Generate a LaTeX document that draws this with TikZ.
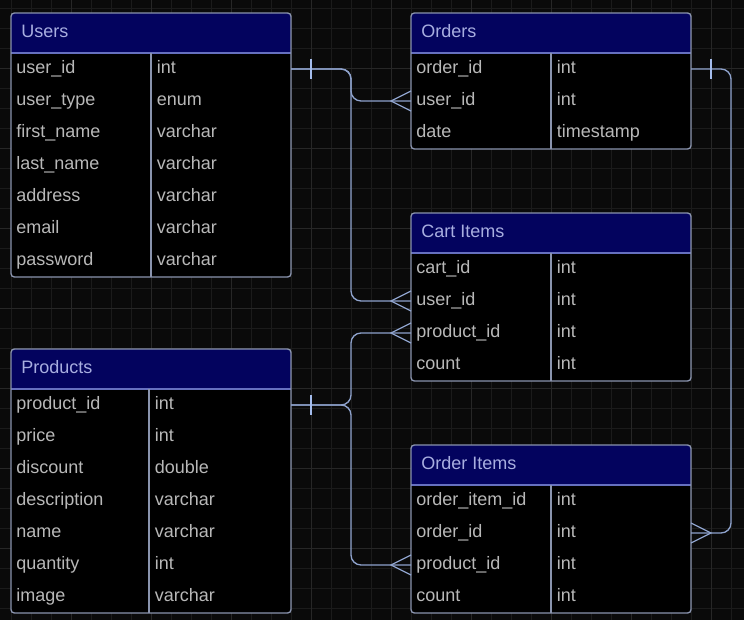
\documentclass[tikz,border=0pt]{standalone}
\usepackage{fontspec}
\setmainfont{Liberation Sans}
\usetikzlibrary{calc}
\definecolor{bg}{HTML}{0A0A0A}
\definecolor{gridminor}{HTML}{1B1B1B}
\definecolor{gridmajor}{HTML}{272727}
\definecolor{hdrfill}{HTML}{03035E}
\definecolor{hdrtext}{HTML}{A8AEE0}
\definecolor{celltext}{HTML}{B8B8B8}
\definecolor{bordercol}{HTML}{8A94AE}
\definecolor{hdrline}{HTML}{6670C0}
\definecolor{conncol}{HTML}{8EA2CC}
\definecolor{markcol}{HTML}{A4BCEC}
\tikzset{
  hdrtxt/.style={inner sep=0pt, anchor=base west, text=hdrtext, font=\fontsize{13.5}{16}\selectfont},
  celltxt/.style={inner sep=0pt, anchor=base west, text=celltext, font=\fontsize{13.5}{16}\selectfont},
  tblborder/.style={draw=bordercol, line width=1pt},
  connline/.style={draw=conncol, line width=1pt, rounded corners=7.5pt},
  markline/.style={draw=markcol, line width=1pt},
  crowline/.style={draw=conncol, line width=1pt},
}
% #1 name, #2 x, #3 y, #4 divider offset, #5 rows, #6 title, #7 rows list
\newcommand\ertable[7]{%
  \begin{scope}[shift={(#2,#3)}]
    \pgfmathsetmacro\tblH{40+32*#5}
    \begin{scope}
      \clip[rounded corners=2.5pt] (0,0) rectangle (280,\tblH);
      \fill[black] (0,0) rectangle (280,\tblH);
      \fill[hdrfill] (0,0) rectangle (280,40);
    \end{scope}
    \draw[hdrline, line width=1pt] (0,40) -- (280,40);
    \draw[tblborder] (#4,40) -- (#4,\tblH);
    \draw[tblborder, rounded corners=2.5pt] (0,0) rectangle (280,\tblH);
    \node[hdrtxt] (#1-title) at (10,24.5) {#6};
    \foreach \a/\b [count=\i] in {#7} {
      \node[celltxt] (#1-\i-n) at (5,{40+32*\i-16+4.5}) {\a};
      \node[celltxt] (#1-\i-t) at ({#4+5.5},{40+32*\i-16+4.5}) {\b};
      \coordinate (#1-\i-l) at (0,{40+32*\i-16});
      \coordinate (#1-\i-r) at (280,{40+32*\i-16});
    }
  \end{scope}
}
\begin{document}
\begin{tikzpicture}[x=0.75pt, y=-0.75pt]
  \useasboundingbox (0,0) rectangle (744,620);
  \fill[bg] (0,0) rectangle (744,620);
  % grid
  \foreach \k in {0,...,36} {
    \draw[gridminor, line width=0.75pt] ({11.7+20*\k},0) -- ({11.7+20*\k},620);
  }
  \foreach \k in {0,...,30} {
    \draw[gridminor, line width=0.75pt] (0,{8.3+20*\k}) -- (744,{8.3+20*\k});
  }
  \foreach \k in {0,...,8} {
    \draw[gridmajor, line width=0.75pt] ({71.7+80*\k},0) -- ({71.7+80*\k},620);
  }
  \foreach \k in {0,...,7} {
    \draw[gridmajor, line width=0.75pt] (0,{68.3+80*\k}) -- (744,{68.3+80*\k});
  }
  % tables
  \ertable{U}{11}{13}{140}{7}{Users}{user\_id/int, user\_type/enum, first\_name/varchar, last\_name/varchar, address/varchar, email/varchar, password/varchar}
  \ertable{O}{411}{13}{140}{3}{Orders}{order\_id/int, user\_id/int, date/timestamp}
  \ertable{C}{411}{213}{140}{4}{Cart Items}{cart\_id/int, user\_id/int, product\_id/int, count/int}
  \ertable{P}{11}{349}{138}{7}{Products}{product\_id/int, price/int, discount/double, description/varchar, name/varchar, quantity/int, image/varchar}
  \ertable{OI}{411}{445}{140}{4}{Order Items}{order\_item\_id/int, order\_id/int, product\_id/int, count/int}
  % connectors
  \draw[connline] (U-1-r) -- ++(60,0) |- (O-2-l);
  \draw[connline] (U-1-r) -- ++(60,0) |- (C-2-l);
  \draw[connline] (P-1-r) -- ++(60,0) |- (C-3-l);
  \draw[connline] (P-1-r) -- ++(60,0) |- (OI-3-l);
  \draw[connline] (O-1-r) -- ++(40,0) |- (OI-2-r);
  % one marks
  \draw[markline] ($(U-1-r)+(20,-10)$) -- ($(U-1-r)+(20,10)$);
  \draw[markline] ($(P-1-r)+(20,-10)$) -- ($(P-1-r)+(20,10)$);
  \draw[markline] ($(O-1-r)+(20,-10)$) -- ($(O-1-r)+(20,10)$);
  % many marks
  \draw[crowline] ($(O-2-l)+(0,-10)$) -- ($(O-2-l)+(-20,0)$) -- ($(O-2-l)+(0,10)$);
  \draw[crowline] ($(C-2-l)+(0,-10)$) -- ($(C-2-l)+(-20,0)$) -- ($(C-2-l)+(0,10)$);
  \draw[crowline] ($(C-3-l)+(0,-10)$) -- ($(C-3-l)+(-20,0)$) -- ($(C-3-l)+(0,10)$);
  \draw[crowline] ($(OI-3-l)+(0,-10)$) -- ($(OI-3-l)+(-20,0)$) -- ($(OI-3-l)+(0,10)$);
  \draw[crowline] ($(OI-2-r)+(0,-10)$) -- ($(OI-2-r)+(20,0)$) -- ($(OI-2-r)+(0,10)$);
\end{tikzpicture}
\end{document}
